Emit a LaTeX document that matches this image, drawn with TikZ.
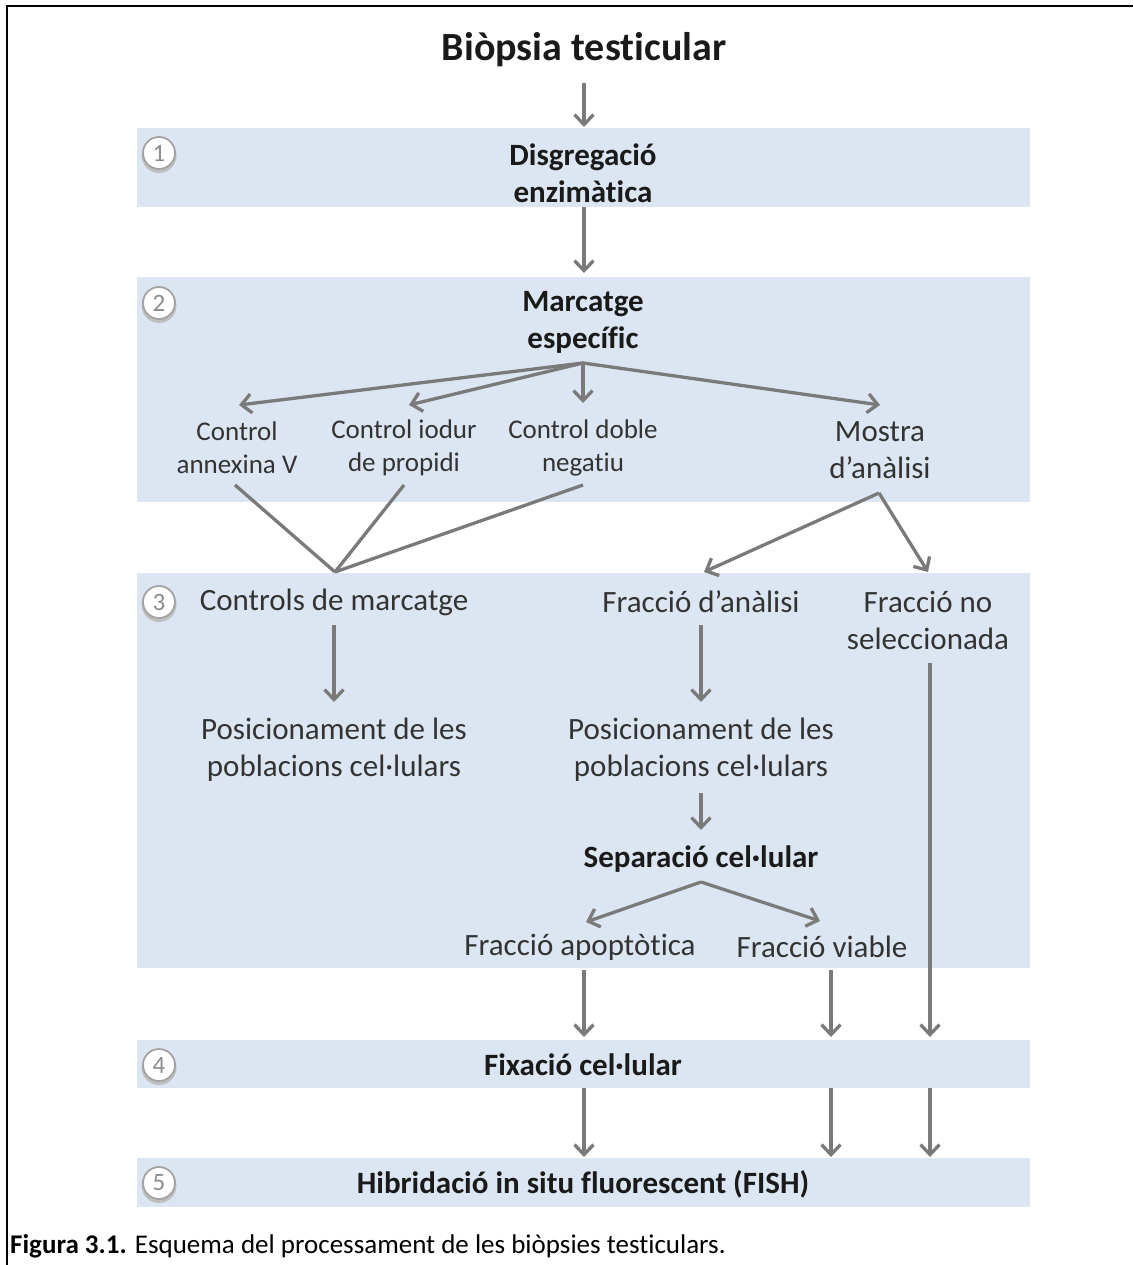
\documentclass[tikz,border=0pt]{standalone}
\usepackage{fontspec}
\setmainfont{Carlito}[Ligatures=NoCommon]
\usetikzlibrary{arrows.meta}
\definecolor{bandblue}{HTML}{DCE6F2}
\definecolor{arrgray}{HTML}{7A7A7A}
\definecolor{txtdark}{HTML}{1A1A1A}
\definecolor{txtgray}{HTML}{333333}
\definecolor{numgray}{HTML}{8C8C8C}
\begin{document}
\begin{tikzpicture}[x=1pt,y=-1pt,
  band/.style={fill=bandblue,draw=none,inner sep=0pt,outer sep=0pt},
  bigtxt/.style={inner sep=0pt,align=center,text=txtdark,font=\bfseries\fontsize{31}{37}\selectfont},
  regtxt/.style={inner sep=0pt,align=center,text=txtgray,font=\fontsize{31}{37}\selectfont},
  smalltxt/.style={inner sep=0pt,align=center,text=txtgray,font=\fontsize{27}{33}\selectfont},
  numc/.style={circle,draw=numgray!80,fill=white,line width=1.8pt,minimum size=32pt,inner sep=0pt,text=numgray,font=\fontsize{25}{25}\selectfont},
  arr/.style={draw=arrgray,line width=3.3pt,-{Straight Barb[length=10pt,width=19pt]}},
  ln/.style={draw=arrgray,line width=3.3pt},
  frame/.style={draw=black,line width=2.5pt}
]
\useasboundingbox (0,0) rectangle (1133,1265);
% frame (top and left)
\coordinate (fl) at (7,1265);
\coordinate (fc) at (7,6);
\coordinate (fr) at (1133,6);
\draw[frame] (fl) -- (fc) -- (fr);

% bands
\node[band,minimum width=893pt,minimum height=79pt] (b1) at (583.5,167.5) {};
\node[band,minimum width=893pt,minimum height=225pt] (b2) at (583.5,389.5) {};
\node[band,minimum width=893pt,minimum height=395pt] (b3) at (583.5,770.5) {};
\node[band,minimum width=893pt,minimum height=48pt] (b4) at (583.5,1064) {};
\node[band,minimum width=893pt,minimum height=49pt] (b5) at (583.5,1182.5) {};

% circled numbers
\foreach \n/\yy in {1/153,2/303,3/602,4/1065,5/1183}{
  \fill[black!25] (159,\yy+2.5) circle (17.5pt);
  \node[numc] (n\n) at (159,\yy) {\n};
}

% title
\node[inner sep=0pt,text=txtdark,font=\bfseries\fontsize{40}{44}\selectfont] (title) at (584,50) {Biòpsia testicular};

% texts
\node[bigtxt] (t1) at (583,173) {Disgregació\\enzimàtica};
\node[bigtxt] (t2) at (583,322) {Marcatge\\específic};
\node[smalltxt] (ca) at (237,448) {Control\\annexina V};
\node[smalltxt] (ci) at (404,448) {Control iodur\\de propidi};
\node[smalltxt] (cd) at (583,448) {Control doble\\negatiu};
\node[regtxt] (ma) at (880,450) {Mostra\\d’anàlisi};
\node[regtxt] (cm) at (334,602) {Controls de marcatge};
\node[regtxt] (fa) at (701,602) {Fracció d’anàlisi};
\node[regtxt] (fn) at (928,620) {Fracció no\\seleccionada};
\node[regtxt] (pl) at (334,750) {Posicionament de les\\poblacions cel·lulars};
\node[regtxt] (pr) at (701,750) {Posicionament de les\\poblacions cel·lulars};
\node[bigtxt] (sc) at (701,859) {Separació cel·lular};
\node[regtxt] (fap) at (580,947) {Fracció apoptòtica};
\node[regtxt] (fv) at (822,947) {Fracció viable};
\node[bigtxt] (fx) at (583,1065) {Fixació cel·lular};
\node[bigtxt] (fish) at (583,1184) {Hibridació in situ fluorescent (FISH)};

% caption
\node[anchor=west,inner sep=0pt,text=black,font=\fontsize{27}{31}\selectfont] (cap) at (10,1246) {\textbf{Figura 3.1.} Esquema del processament de les biòpsies testiculars.};

% connector coordinates
\coordinate (a0s) at (584,83);
\coordinate (a0e) at (584,127);
\coordinate (a1s) at (584,207);
\coordinate (a1e) at (584,273);
\coordinate (fan) at (583,363);
\coordinate (caN) at (239,405);
\coordinate (ciN) at (409,405);
\coordinate (cdN) at (583,403);
\coordinate (maN) at (880,405);
\coordinate (caS) at (235,485);
\coordinate (ciS) at (404,485);
\coordinate (cdS) at (583,485);
\coordinate (join) at (335,572);
\coordinate (maS) at (879,493);
\coordinate (faN) at (704,572);
\coordinate (fnN) at (928,572);
\coordinate (cmS) at (334,625);
\coordinate (plN) at (334,702);
\coordinate (faS) at (701,625);
\coordinate (prN) at (701,702);
\coordinate (prS) at (701,793);
\coordinate (scN) at (701,830);
\coordinate (scS) at (701,882);
\coordinate (fapN) at (586,922);
\coordinate (fvN) at (820,921);
\coordinate (fnS) at (930,663);
\coordinate (fnE) at (930,1037);
\coordinate (fapS) at (584,970);
\coordinate (fapE) at (584,1037);
\coordinate (fvS) at (831,970);
\coordinate (fvE) at (831,1037);
\foreach \xx/\nm in {584/p,831/q,930/r}{
  \coordinate (s4\nm) at (\xx,1088);
  \coordinate (e5\nm) at (\xx,1157);
}

% connectors
\draw[arr] (a0s) -- (a0e);
\draw[arr] (a1s) -- (a1e);
\draw[arr] (fan) -- (caN);
\draw[arr] (fan) -- (ciN);
\draw[arr] (fan) -- (cdN);
\draw[arr] (fan) -- (maN);
\draw[ln] (caS) -- (join);
\draw[ln] (ciS) -- (join);
\draw[ln] (cdS) -- (join);
\draw[arr] (maS) -- (faN);
\draw[arr] (maS) -- (fnN);
\draw[arr] (cmS) -- (plN);
\draw[arr] (faS) -- (prN);
\draw[arr] (prS) -- (scN);
\draw[arr] (scS) -- (fapN);
\draw[arr] (scS) -- (fvN);
\draw[arr] (fnS) -- (fnE);
\draw[arr] (fapS) -- (fapE);
\draw[arr] (fvS) -- (fvE);
\draw[arr] (s4p) -- (e5p);
\draw[arr] (s4q) -- (e5q);
\draw[arr] (s4r) -- (e5r);
\end{tikzpicture}
\end{document}
